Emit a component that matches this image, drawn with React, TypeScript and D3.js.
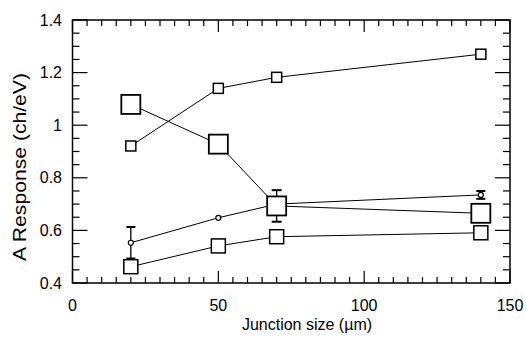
import React from "react";
import * as d3 from "d3";

const junctionSize = [20, 50, 70, 140];
const seriesTop = [0.921, 1.14, 1.182, 1.27];
const seriesLargeDown = [1.079, 0.928, 0.693, 0.665];
const seriesCircle = [0.553, 0.648, 0.7, 0.735];
const seriesBottom = [0.462, 0.541, 0.576, 0.591];
const circleErr = [0.06, 0, 0, 0.015];
const largeDownErr = [0, 0, 0.06, 0];
const yTickLabels = ["0.4", "0.6", "0.8", "1", "1.2", "1.4"];
const yTickValues = [0.4, 0.6, 0.8, 1.0, 1.2, 1.4];
const xTickValues = [0, 50, 100, 150];

const W = 526;
const H = 339;
const left = 72.5;
const right = 510;
const top = 20;
const bottom = 283;
const FONT = "'Liberation Sans', Arial, Helvetica, sans-serif";

export default function App() {
  const x = d3.scaleLinear().domain([0, 150]).range([left, right]);
  const y = d3.scaleLinear().domain([0.4, 1.4]).range([bottom, top]);
  const line = d3
    .line<number>()
    .x((_, i) => x(junctionSize[i]))
    .y((d) => y(d));

  const xMinor = d3.range(0, 150.001, 5);
  const yMinor = d3.range(0.4, 1.40001, 0.05);
  const isMajorX = (v: number) => Math.abs(v / 50 - Math.round(v / 50)) < 1e-6;
  const isMajorY = (v: number) => Math.abs(v / 0.2 - Math.round(v / 0.2)) < 1e-6;

  const square = (vals: number[], size: number, key: string, sw = 1.5) =>
    vals.map((v, i) => (
      <rect
        key={key + i}
        x={x(junctionSize[i]) - size / 2}
        y={y(v) - size / 2}
        width={size}
        height={size}
        fill="white"
        stroke="black"
        strokeWidth={sw}
      />
    ));

  const errBars = (vals: number[], errs: number[], key: string, cap: number) =>
    vals.map((v, i) =>
      errs[i] > 0 ? (
        <g key={key + i} stroke="black" strokeWidth={1.3}>
          <line x1={x(junctionSize[i])} x2={x(junctionSize[i])} y1={y(v - errs[i])} y2={y(v + errs[i])} />
          <line x1={x(junctionSize[i]) - cap / 2} x2={x(junctionSize[i]) + cap / 2} y1={y(v + errs[i])} y2={y(v + errs[i])} strokeWidth={2} />
          <line x1={x(junctionSize[i]) - cap / 2} x2={x(junctionSize[i]) + cap / 2} y1={y(v - errs[i])} y2={y(v - errs[i])} strokeWidth={2} />
        </g>
      ) : null
    );

  return (
    <svg
      width={W}
      height={H}
      style={{ position: "fixed", left: 0, top: 0, background: "white" }}
      fontFamily={FONT}
    >
      <rect x={0} y={0} width={W} height={H} fill="white" />
      {/* ticks */}
      <g stroke="black" strokeWidth={1.2}>
        {xMinor.map((v) => {
          const len = isMajorX(v) ? 12 : 6;
          return (
            <g key={"xt" + v}>
              <line x1={x(v)} x2={x(v)} y1={bottom} y2={bottom - len} />
              <line x1={x(v)} x2={x(v)} y1={top} y2={top + len} />
            </g>
          );
        })}
        {yMinor.map((v) => {
          const len = isMajorY(v) ? 15 : 7;
          return (
            <g key={"yt" + v.toFixed(2)}>
              <line x1={left} x2={left + len} y1={y(v)} y2={y(v)} />
              <line x1={right} x2={right - len} y1={y(v)} y2={y(v)} />
            </g>
          );
        })}
      </g>
      <rect x={left} y={top} width={right - left} height={bottom - top} fill="none" stroke="black" strokeWidth={1.5} />

      {/* tick labels */}
      <g fontSize={16} fill="black">
        {yTickValues.map((v, i) => (
          <text key={"yl" + i} x={62} y={y(v)} textAnchor="end" dominantBaseline="central">
            {yTickLabels[i]}
          </text>
        ))}
        {xTickValues.map((v) => (
          <text key={"xl" + v} x={x(v)} y={311} textAnchor="middle">
            {v}
          </text>
        ))}
      </g>

      <text x={307} y={330} fontSize={16} textAnchor="middle">
        Junction size (µm)
      </text>
      <text
        transform="translate(26,167) rotate(-90)"
        fontSize={18}
        textAnchor="middle"
        textLength={188}
        lengthAdjust="spacingAndGlyphs"
      >
        A  Response (ch/eV)
      </text>

      {/* lines */}
      <g fill="none" stroke="black" strokeWidth={1}>
        <path d={line(seriesTop) || ""} />
        <path d={line(seriesLargeDown) || ""} />
        <path d={line(seriesCircle) || ""} />
        <path d={line(seriesBottom) || ""} />
      </g>

      {errBars(seriesCircle, circleErr, "ec", 9)}
      {errBars(seriesLargeDown, largeDownErr, "el", 10)}

      {seriesCircle.map((v, i) => (
        <circle key={"c" + i} cx={x(junctionSize[i])} cy={y(v)} r={2.5} fill="white" stroke="black" strokeWidth={1.2} />
      ))}
      {square(seriesTop, 10, "st")}
      {square(seriesBottom, 14, "sb")}
      {square(seriesLargeDown, 19, "sl", 1.8)}
    </svg>
  );
}
